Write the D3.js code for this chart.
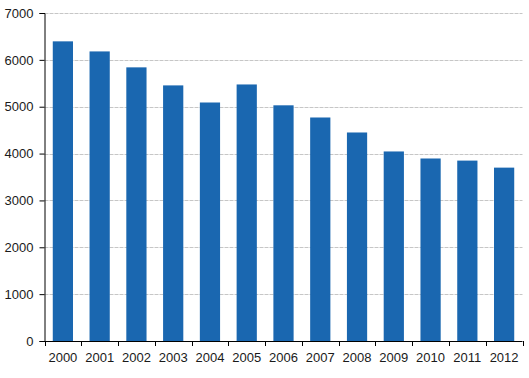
<!DOCTYPE html>
<html>
<head>
<meta charset="utf-8">
<script src="https://cdn.jsdelivr.net/npm/d3@7"></script>
<style>
  body { margin: 0; background: #fff; }
  text { font-family: "Liberation Sans", Arial, sans-serif; }
</style>
</head>
<body>
<div id="chart"></div>
<script>
const years = ["2000", "2001", "2002", "2003", "2004", "2005", "2006", "2007", "2008", "2009", "2010", "2011", "2012"];
const values = [6395, 6180, 5840, 5455, 5090, 5475, 5030, 4770, 4450, 4045, 3895, 3850, 3700];
const yTicks = [0, 1000, 2000, 3000, 4000, 5000, 6000, 7000];

const width = 529, height = 378;
const margin = { top: 13, right: 6.5, bottom: 37, left: 44.5 };

const svg = d3.select("#chart").append("svg")
  .attr("width", width)
  .attr("height", height);

const x = d3.scaleBand()
  .domain(years)
  .range([margin.left, width - margin.right])
  .paddingInner(0.45)
  .paddingOuter(0.225);

const y = d3.scaleLinear()
  .domain([0, 7000])
  .range([height - margin.bottom, margin.top]);

// gridlines
svg.append("g")
  .selectAll("line")
  .data(yTicks.filter(d => d > 0))
  .join("line")
    .attr("x1", margin.left)
    .attr("x2", width - margin.right)
    .attr("y1", d => Math.round(y(d)) + 0.5)
    .attr("y2", d => Math.round(y(d)) + 0.5)
    .attr("stroke", "#c6c6c6")
    .attr("stroke-dasharray", "4,1");

// bars
svg.append("g")
  .attr("fill", "#1a67b0")
  .selectAll("rect")
  .data(years.map((yr, i) => ({ yr, v: values[i] })))
  .join("rect")
    .attr("x", d => x(d.yr))
    .attr("width", x.bandwidth())
    .attr("y", d => y(d.v))
    .attr("height", d => y(0) - y(d.v));

// y axis
const yAxis = svg.append("g")
  .attr("transform", `translate(${margin.left},0)`)
  .call(d3.axisLeft(y).tickValues(yTicks).tickSize(5).tickPadding(6).tickFormat(d3.format("d")));
yAxis.selectAll("text").attr("font-size", 13).attr("fill", "#1a1a1a").style("font-family", "Liberation Sans, Arial, sans-serif");
yAxis.selectAll("line, path").attr("stroke", "#000");

// x axis: ticks at band boundaries
const step = x.step();
const bounds = years.map((d, i) => margin.left + i * step);
bounds.push(width - margin.right);

const xg = svg.append("g");
xg.append("line")
  .attr("x1", margin.left)
  .attr("x2", width - margin.right)
  .attr("y1", y(0) + 0.5)
  .attr("y2", y(0) + 0.5)
  .attr("stroke", "#000");
xg.selectAll("line.tick")
  .data(bounds)
  .join("line")
    .attr("class", "tick")
    .attr("x1", d => Math.round(d) + 0.5)
    .attr("x2", d => Math.round(d) + 0.5)
    .attr("y1", y(0))
    .attr("y2", y(0) + 5)
    .attr("stroke", "#000");
xg.selectAll("text")
  .data(years)
  .join("text")
    .attr("x", d => x(d) + x.bandwidth() / 2)
    .attr("y", y(0) + 21)
    .attr("text-anchor", "middle")
    .attr("font-size", 13)
    .attr("fill", "#1a1a1a")
    .text(d => d);
</script>
</body>
</html>
